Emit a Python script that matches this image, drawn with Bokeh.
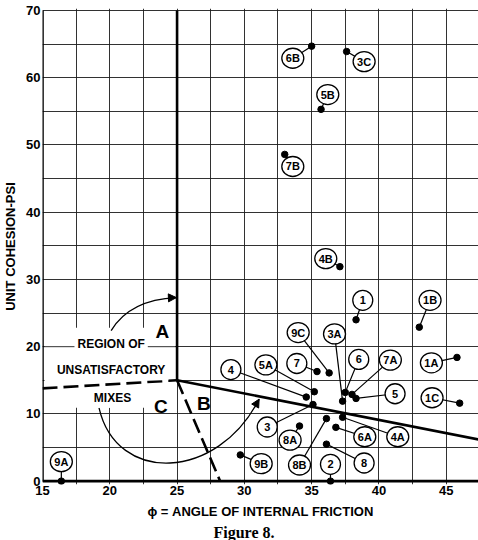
from bokeh.plotting import figure
from bokeh.models import ColumnDataSource, FixedTicker, Label, Arrow, NormalHead, Title, Range1d
from bokeh.core.properties import value
from bokeh.embed import file_html
from bokeh.resources import INLINE

# ---- data ----
sample_ids = ["6B", "3C", "5B", "7B", "4B", "1", "1B", "9C", "3A", "6", "7A", "5", "1A",
              "1C", "4", "5A", "7", "3", "8A", "8B", "6A", "4A", "8", "2", "9B", "9A"]
phi = [35.0, 37.6, 35.7, 33.0, 37.1, 38.3, 43.0, 36.3, 37.3, 37.5, 38.0, 38.3, 45.8,
       46.0, 34.6, 35.2, 35.4, 35.1, 34.1, 36.1, 36.8, 37.3, 36.1, 36.4, 29.7, 16.4]
cohesion = [64.7, 63.9, 55.3, 48.6, 31.9, 24.0, 22.9, 16.1, 11.9, 13.2, 12.9, 12.3, 18.4,
            11.6, 12.5, 13.3, 16.3, 11.4, 8.2, 9.3, 8.0, 9.5, 5.5, 0.0, 3.9, 0.0]
# where each sample's circled tag sits
tag_phi = [33.6, 38.9, 36.2, 33.6, 36.05, 38.8, 43.8, 34.0, 36.7, 38.5, 40.85, 41.2, 43.9,
           43.95, 29.0, 31.6, 33.9, 31.7, 33.4, 34.1, 38.95, 41.4, 38.9, 36.4, 31.25, 16.4]
tag_cohesion = [62.9, 62.4, 57.5, 46.8, 33.1, 26.9, 26.9, 22.1, 21.9, 18.1, 18.0, 13.0, 17.6,
                12.4, 16.6, 17.3, 17.5, 8.05, 6.1, 2.4, 6.6, 6.6, 2.7, 2.5, 2.6, 2.9]

x_ticks = [15, 20, 25, 30, 35, 40, 45]
y_ticks = [0, 10, 20, 30, 40, 50, 60, 70]
x_grid = [15, 17.5, 20, 22.5, 25, 27.5, 30, 32.5, 35, 37.5, 40, 42.5, 45, 47.5]
y_grid = [0, 5, 10, 15, 20, 25, 30, 35, 40, 45, 50, 55, 60, 65, 70]

phi_lim = [15, 47.4]
coh_lim = [0, 70]

# boundaries of the unsatisfactory region
vert_x, vert_y = [25, 25], [15, 70]
solid_x, solid_y = [25, 47.4], [15, 6.2]
dash_c_x, dash_c_y = [15, 25], [13.8, 15]
dash_b_x, dash_b_y = [25, 28.2], [15, 0]

# blank (grid-free) panel behind the region caption, and the grid line kept across it
blank_phi = [15.15, 24.85]
blank_coh = [10.9, 22.8]
kept_grid_coh = 20

region_text = ["REGION OF", "UNSATISFACTORY", "MIXES"]
region_x = [20.1, 20.1, 20.2]
region_y = [20.4, 16.5, 12.4]
zone_letters = ["A", "C", "B"]
zone_x = [23.9, 23.8, 27.0]
zone_y = [22.2, 11.1, 11.6]

# pointer curves (to region A, and to region B)
curve_a = dict(x0=20.1, y0=22.4, x1=24.95, y1=27.3, cx=21.5, cy=27.0)
curve_b = dict(x0=19.2, y0=10.9, x1=31.1, y1=12.2, cx0=20.5, cy0=-0.5, cx1=28.0, cy1=0.0)

caption = "Figure 8."

# ---- figure ----
p = figure(width=478, height=540, x_range=Range1d(15, 47.4), y_range=Range1d(-0.5, 70.3),
           output_backend="svg", toolbar_location=None,
           min_border_left=42, min_border_right=0, min_border_top=8, min_border_bottom=0)
p.outline_line_color = None
p.background_fill_color = "white"
p.border_fill_color = "white"

for ax in (p.xaxis[0], p.yaxis[0]):
    ax.axis_line_color = None
    ax.major_tick_in = 0
    ax.major_tick_out = 0
    ax.minor_tick_in = 0
    ax.minor_tick_out = 0
    ax.major_tick_line_color = None
    ax.minor_tick_line_color = None
    ax.major_label_text_font = "Liberation Sans"
    ax.major_label_text_font_size = "13px"
    ax.major_label_text_font_style = "bold"
    ax.major_label_text_color = "black"
    ax.axis_label_text_font = "Liberation Sans"
    ax.axis_label_text_font_size = "13px"
    ax.axis_label_text_font_style = "bold"
    ax.axis_label_text_color = "black"

p.xaxis.ticker = FixedTicker(ticks=x_ticks)
p.yaxis.ticker = FixedTicker(ticks=y_ticks)
p.xaxis.major_label_standoff = 1
p.yaxis.major_label_standoff = 2
p.xaxis.axis_label = "ϕ = ANGLE OF INTERNAL FRICTION"
p.yaxis.axis_label = "UNIT COHESION-PSI"
p.xaxis.axis_label_standoff = 6
p.yaxis.axis_label_standoff = 5

grid_color, grid_width, grid_alpha = "#1c1c1c", 1.0, 0.9
p.xgrid.ticker = FixedTicker(ticks=x_grid)
p.ygrid.ticker = FixedTicker(ticks=y_grid)
p.grid.grid_line_color = grid_color
p.grid.grid_line_width = grid_width
p.grid.grid_line_alpha = grid_alpha

# blank panel behind the caption text
p.quad(left=[blank_phi[0]], right=[blank_phi[1]], bottom=[blank_coh[0]], top=[blank_coh[1]],
       fill_color="white", line_color=None)
p.line([phi_lim[0], vert_x[0]], [kept_grid_coh, kept_grid_coh], line_color=grid_color,
       line_width=grid_width, line_alpha=grid_alpha)

# heavy axes lines
p.line([phi_lim[0], phi_lim[0]], coh_lim, line_color="black", line_width=2.6)
p.line(phi_lim, [coh_lim[0], coh_lim[0]], line_color="black", line_width=2.6)

# region boundaries
p.line(vert_x, vert_y, line_color="black", line_width=2.6)
p.line(solid_x, solid_y, line_color="black", line_width=2.6)
p.line(dash_c_x, dash_c_y, line_color="black", line_width=2.6, line_dash="15 6")
p.line(dash_b_x, dash_b_y, line_color="black", line_width=2.6, line_dash="15 6")

# pointer curves
p.quadratic(**curve_a, line_color="black", line_width=1.3)
p.bezier(**curve_b, line_color="black", line_width=1.3)
p.add_layout(Arrow(end=NormalHead(size=8, fill_color="black", line_color="black"),
                   x_start=24.5, y_start=27.27, x_end=24.95, y_end=27.3,
                   line_color="black", line_width=1.3))
p.add_layout(Arrow(end=NormalHead(size=8, fill_color="black", line_color="black"),
                   x_start=30.9, y_start=11.5, x_end=31.1, y_end=12.2,
                   line_color="black", line_width=1.3))

# samples
widths = [20 if len(s) == 1 else 22 for s in sample_ids]
src = ColumnDataSource(dict(phi=phi, coh=cohesion, tx=tag_phi, ty=tag_cohesion,
                            lab=sample_ids, w=widths))
p.segment(x0="tx", y0="ty", x1="phi", y1="coh", source=src, line_color="black", line_width=1.2)
p.ellipse(x="tx", y="ty", width="w", height=20, width_units="screen", height_units="screen",
          source=src, fill_color="white", line_color="black", line_width=1.3)
p.text(x="tx", y="ty", text="lab", source=src, text_align="center", text_baseline="middle",
       text_font=value("Liberation Sans"), text_font_size="11px", text_font_style="bold",
       text_color="black")
p.scatter(x="phi", y="coh", source=src, size=6.5, fill_color="black", line_color="black")

for t, x, y in zip(region_text, region_x, region_y):
    p.add_layout(Label(x=x, y=y, text=t, text_align="center", text_baseline="middle",
                       text_font="Liberation Sans", text_font_size="12px", text_font_style="bold",
                       text_color="black", background_fill_color="white", padding=3))
for t, x, y in zip(zone_letters, zone_x, zone_y):
    p.add_layout(Label(x=x, y=y, text=t, text_align="center", text_baseline="middle",
                       text_font="Liberation Sans", text_font_size="19px", text_font_style="bold",
                       text_color="black"))

p.add_layout(Title(text=caption, align="left", offset=171, text_font="Liberation Serif",
                   text_font_size="16px", text_font_style="bold", text_color="black",
                   standoff=0), "below")

open("out.html", "w").write(file_html(p, INLINE))
